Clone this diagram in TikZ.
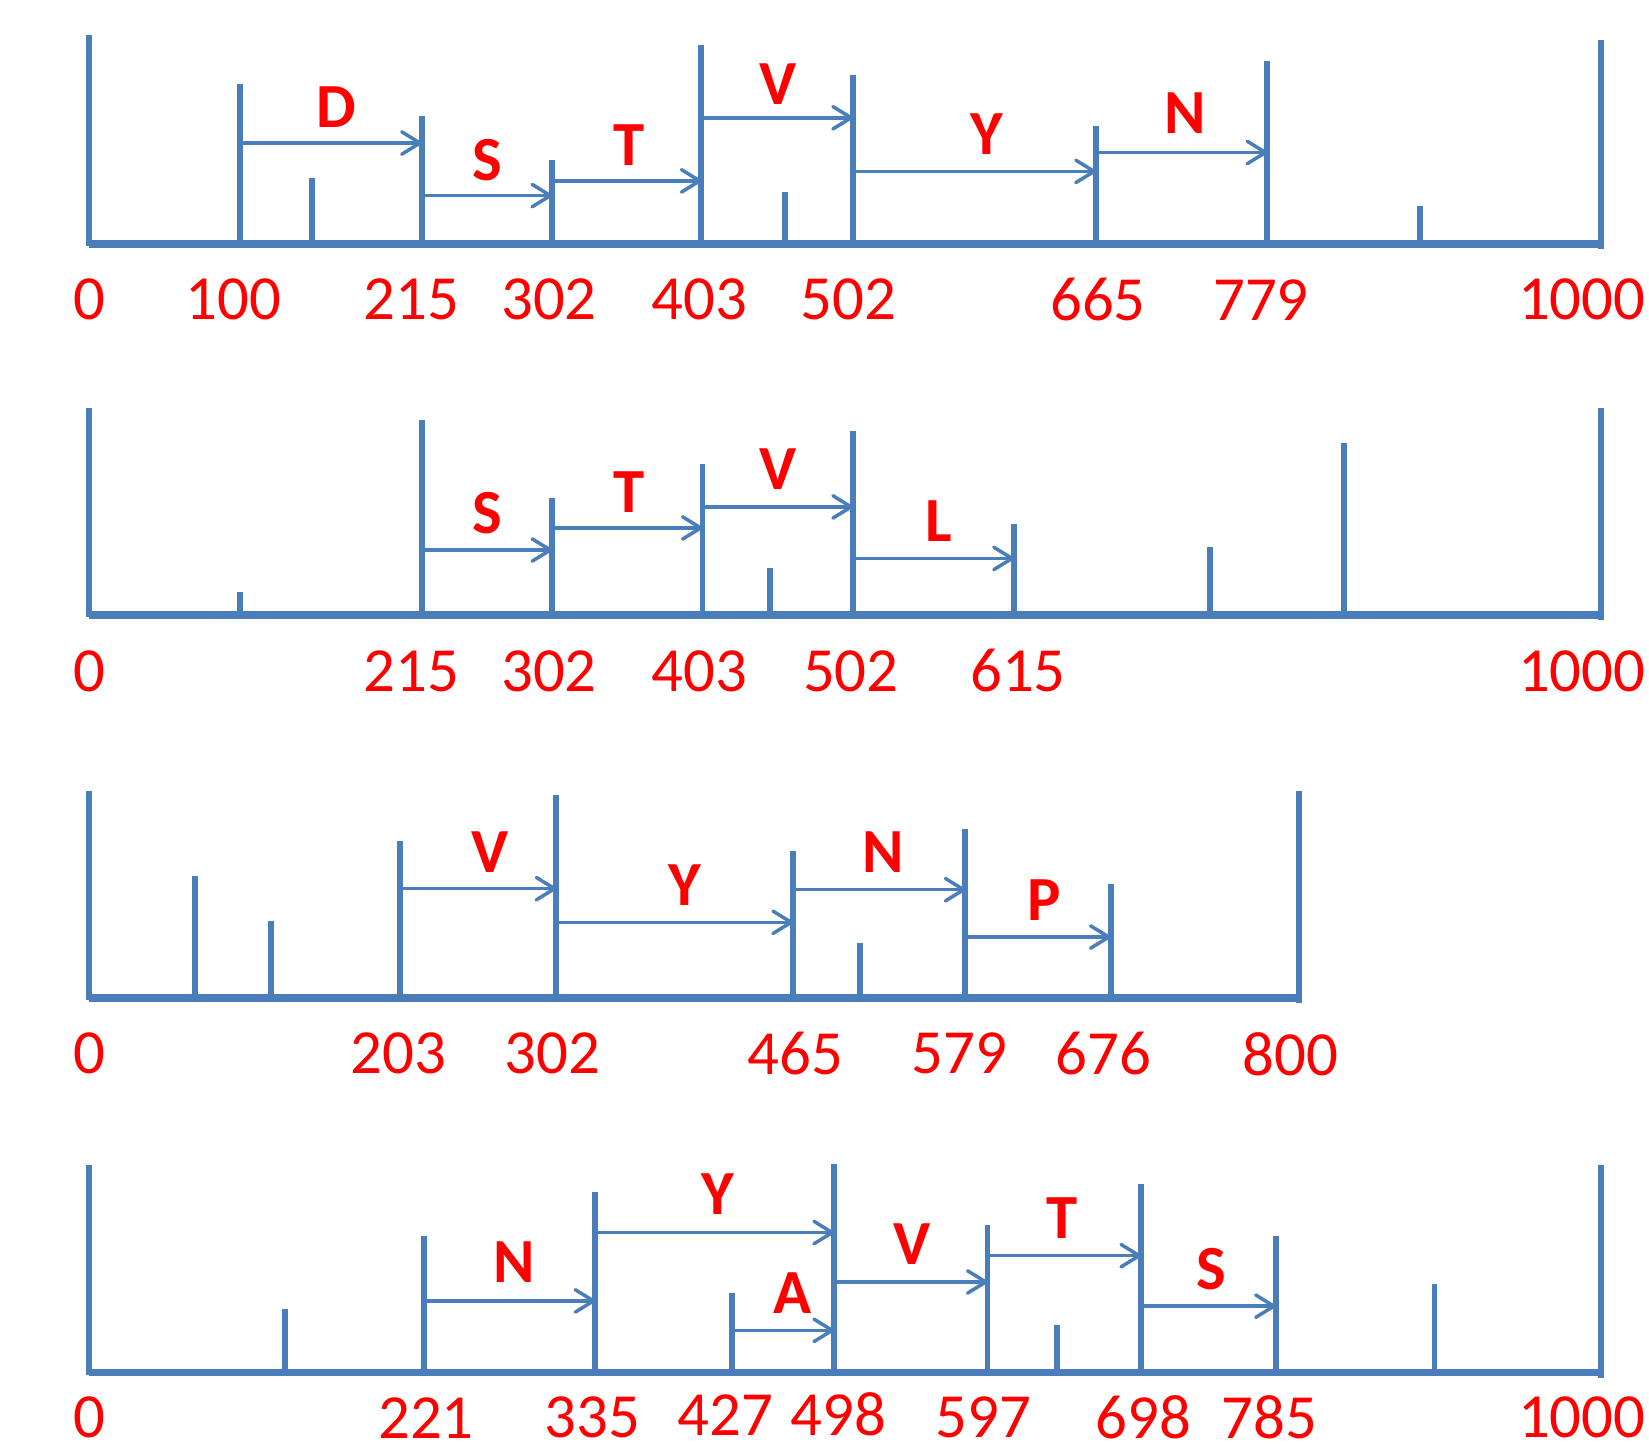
\documentclass[tikz,border=0pt]{standalone}
\usepackage{fontspec}
\setmainfont{Carlito}
\usetikzlibrary{arrows.meta}
\definecolor{barblue}{RGB}{74,126,187}
\definecolor{labred}{RGB}{255,0,0}
\begin{document}
\begin{tikzpicture}[x=0.03cm,y=-0.03cm,
  tickline/.style={barblue,line width=1.7mm},
  axisline/.style={barblue,line width=2.2mm},
  steparrow/.style={barblue,line width=1mm,-{Straight Barb[length=5.2mm,width=6.4mm,round]}},
  numlab/.style={text=labred,inner sep=0pt,font=\fontsize{51}{60}\selectfont},
  letlab/.style={text=labred,inner sep=0pt,font=\fontsize{51}{60}\selectfont\bfseries}]
\useasboundingbox[fill=white] (0,0) rectangle (1568,1381);

% ---------- panel 1 ----------
\draw[tickline] (85,234) -- (85,33);
\draw[tickline] (1522,237) -- (1522,38);
\foreach \x/\t in {228/80,297/169,401/110,525/152,667/43,746/183,811/71,1042/120,1205/58,1350/196}
  \draw[tickline] (\x,232) -- (\x,\t);
\draw[axisline] (85,232) -- (1522,232);
\foreach \a/\b/\y in {228/401/136,401/525/186,525/667/172,667/811/112,811/1042/163,1042/1205/145}
  \draw[steparrow] (\a,\y) -- (\b,\y);
\foreach \l/\x/\y [count=\i] in {D/320/102,S/463/152,T/598/138,V/740/80,Y/938/128,N/1127/108}
  \node[letlab] (pa-l\i) at (\x,\y) {\l};
\foreach \n/\x [count=\i] in {0/85,100/222,215/391,302/522,403/665,502/807,665/1044,779/1199,1000/1504}
  \node[numlab] (pa-n\i) at (\x,285) {\n};

% ---------- panel 2 ----------
\draw[tickline] (85,587) -- (85,388);
\draw[tickline] (1522,590) -- (1522,388);
\foreach \x/\t in {228/563,401/399,525/474,668/441,732/540,811/410,964/498,1151/520,1278/421}
  \draw[tickline] (\x,585) -- (\x,\t);
\draw[axisline] (85,585) -- (1522,585);
\foreach \a/\b/\y in {401/525/523,525/668/502,668/811/482,811/964/531}
  \draw[steparrow] (\a,\y) -- (\b,\y);
\foreach \l/\x/\y [count=\i] in {S/463/488,T/598/468,V/740/446,L/893/496}
  \node[letlab] (pb-l\i) at (\x,\y) {\l};
\foreach \n/\x [count=\i] in {0/85,215/391,302/522,403/665,502/809,615/968,1000/1504}
  \node[numlab] (pb-n\i) at (\x,638) {\n};

% ---------- panel 3 ----------
\draw[tickline] (85,951) -- (85,752);
\draw[tickline] (1235,954) -- (1235,752);
\foreach \x/\t in {185/833,258/876,380/800,529/756,754/809,818/897,918/788,1056/841}
  \draw[tickline] (\x,949) -- (\x,\t);
\draw[axisline] (85,949) -- (1235,949);
\foreach \a/\b/\y in {380/529/845,529/754/877,754/918/846,918/1056/891}
  \draw[steparrow] (\a,\y) -- (\b,\y);
\foreach \l/\x/\y [count=\i] in {V/466/810,Y/651/842,N/840/810,P/993/856}
  \node[letlab] (pc-l\i) at (\x,\y) {\l};
\foreach \n/\x [count=\i] in {0/85,203/379,302/525,465/756,579/912,676/1049,800/1227}
  \node[numlab] (pc-n\i) at (\x,1002) {\n};

% ---------- panel 4 ----------
\draw[tickline] (85,1307) -- (85,1108);
\draw[tickline] (1522,1310) -- (1522,1108);
\foreach \x/\t in {271/1245,403/1175,566/1133,696/1229,793/1107,939/1165,1005/1260,1085/1126,1213/1175,1364/1221}
  \draw[tickline] (\x,1305) -- (\x,\t);
\draw[axisline] (85,1305) -- (1522,1305);
\foreach \a/\b/\y in {403/566/1237,566/793/1172,696/793/1265,793/939/1219,939/1085/1194,1085/1213/1242}
  \draw[steparrow] (\a,\y) -- (\b,\y);
\foreach \l/\x/\y [count=\i] in {N/489/1200,Y/683/1135,A/754/1230,V/867/1183,T/1010/1158,S/1152/1207}
  \node[letlab] (pd-l\i) at (\x,\y) {\l};
\foreach \n/\x/\y [count=\i] in {0/85/1348,221/405/1348,335/563/1348,427/690/1346,498/797/1345,597/935/1348,698/1087/1348,785/1207/1348,1000/1504/1348}
  \node[numlab] (pd-n\i) at (\x,\y) {\n};
\end{tikzpicture}
\end{document}
